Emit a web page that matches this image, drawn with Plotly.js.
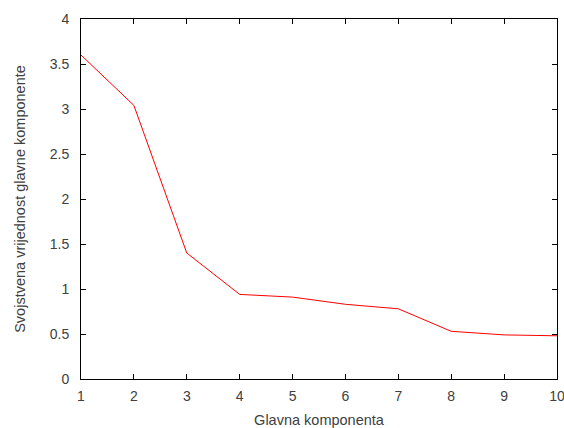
<!DOCTYPE html>
<html><head><meta charset="utf-8">
<script src="https://cdn.plot.ly/plotly-3.0.1.min.js"></script>
<style>html,body{margin:0;padding:0;background:#fff}#c{width:564px;height:428px}</style>
</head><body><div id="c"></div>
<script>
var components = [1, 2, 3, 4, 5, 6, 7, 8, 9, 10];
var eigenvalues = [3.60, 3.04, 1.40, 0.94, 0.91, 0.83, 0.78, 0.53, 0.49, 0.48];
var xTicks = [1, 2, 3, 4, 5, 6, 7, 8, 9, 10];
var yTicks = [0, 0.5, 1, 1.5, 2, 2.5, 3, 3.5, 4];
var yTickText = ['0', '0.5', '1', '1.5', '2', '2.5', '3', '3.5', '4'];

var FONT = 'Liberation Sans, Arial, sans-serif';
var axisCommon = {
  showline: true, linecolor: '#000', linewidth: 1, mirror: 'ticks',
  ticks: 'inside', ticklen: 5, tickcolor: '#000', tickwidth: 1,
  showgrid: false, zeroline: false, ticklabeloverflow: 'allow',
  tickfont: {family: FONT, size: 14, color: '#404040'}
};
var layout = {
  width: 564, height: 428,
  margin: {l: 81, r: 7, t: 19, b: 49},
  paper_bgcolor: '#fff', plot_bgcolor: '#fff',
  showlegend: false,
  xaxis: Object.assign({}, axisCommon, {
    range: [1, 10], tickmode: 'array', tickvals: xTicks,
    ticklabelstandoff: 4,
    title: {text: 'Glavna komponenta', standoff: 14,
      font: {family: FONT, size: 14.5, color: '#404040'}}
  }),
  yaxis: Object.assign({}, axisCommon, {
    range: [0, 4], tickmode: 'array', tickvals: yTicks, ticktext: yTickText,
    ticklabelstandoff: 8,
    title: {text: 'Svojstvena vrijednost glavne komponente', standoff: 20,
      font: {family: FONT, size: 14.5, color: '#404040'}}
  })
};
Plotly.newPlot('c', [{
  x: components, y: eigenvalues, type: 'scatter', mode: 'lines',
  line: {color: '#ff0000', width: 1}
}], layout, {staticPlot: true});
</script></body></html>
